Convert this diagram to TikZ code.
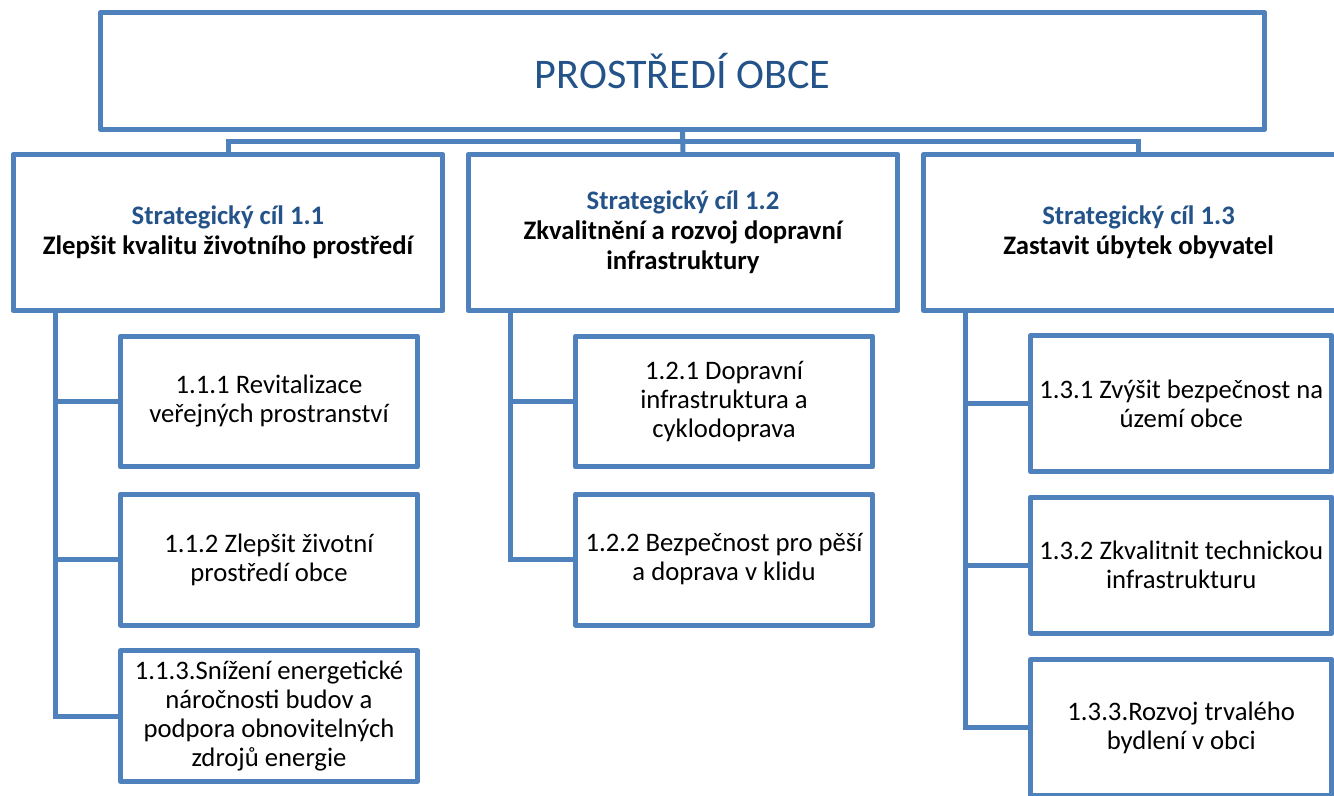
\documentclass[tikz,border=0pt]{standalone}
\usepackage{fontspec}
\setmainfont{Carlito}
\definecolor{framecol}{RGB}{79,129,189}
\definecolor{headcol}{RGB}{36,83,138}

\tikzset{
  box/.style={draw=framecol, line width=0.1cm, line join=round, fill=white,
    align=center, inner sep=2pt},
  titlebox/.style={box, minimum width=23.3cm, minimum height=2.33cm,
    font=\fontsize{24}{28}\selectfont, text=headcol},
  goalbox/.style={box, minimum width=8.6cm, minimum height=3.12cm,
    font=\bfseries\fontsize{15.2}{17}\selectfont},
  taskbox/.style={box, minimum width=5.94cm, minimum height=2.62cm,
    font=\fontsize{15.2}{16.5}\selectfont},
  link/.style={draw=framecol, line width=0.1cm}
}

\begin{document}
\begin{tikzpicture}[x=0.02cm, y=-0.02cm]
  \path[use as bounding box, clip] (0,0) rectangle (1334,795);

  % top
  \node[titlebox] (top) at (682.5,71) {PROSTŘEDÍ OBCE};

  % strategic goals
  \node[goalbox] (g11) at (228,232.5) {\textcolor{headcol}{Strategický cíl 1.1}\\Zlepšit kvalitu životního prostředí};
  \node[goalbox] (g12) at (683,232.5) {\textcolor{headcol}{Strategický cíl 1.2}\\Zkvalitnění a rozvoj dopravní\\infrastruktury};
  \node[goalbox] (g13) at (1138.5,232.5) {\textcolor{headcol}{Strategický cíl 1.3}\\Zastavit úbytek obyvatel};

  % tasks 1.1
  \node[taskbox] (t111) at (269,401.5) {1.1.1 Revitalizace\\veřejných prostranství};
  \node[taskbox] (t112) at (269,559.5) {1.1.2 Zlepšit životní\\prostředí obce};
  \node[taskbox] (t113) at (269,716) {1.1.3.Snížení energetické\\náročnosti budov a\\podpora obnovitelných\\zdrojů energie};

  % tasks 1.2
  \node[taskbox] (t121) at (724,401.5) {1.2.1 Dopravní\\infrastruktura a\\cyklodoprava};
  \node[taskbox] (t122) at (724,559.5) {1.2.2 Bezpečnost pro pěší\\a doprava v klidu};

  % tasks 1.3
  \node[taskbox, minimum width=6.03cm, minimum height=2.72cm] (t131) at (1181.25,403.75) {1.3.1 Zvýšit bezpečnost na\\území obce};
  \node[taskbox, minimum width=6.03cm, minimum height=2.72cm] (t132) at (1181.25,565) {1.3.2 Zkvalitnit technickou\\infrastrukturu};
  \node[taskbox, minimum width=6.03cm, minimum height=2.72cm] (t133) at (1181.25,727.5) {1.3.3.Rozvoj trvalého\\bydlení v obci};

  % connectors
  \coordinate (bus) at (682.5,141.5);
  \coordinate (a11) at (55.5,310.5);
  \coordinate (a12) at (510.5,310.5);
  \coordinate (a13) at (965.5,310.5);

  \draw[link] (top.south) -- (g12.north);
  \draw[link] (g11.north) |- (bus) -| (g13.north);

  \draw[link] (a11) |- (t113.west);
  \draw[link] (a11 |- t111.west) -- (t111.west);
  \draw[link] (a11 |- t112.west) -- (t112.west);

  \draw[link] (a12) |- (t122.west);
  \draw[link] (a12 |- t121.west) -- (t121.west);

  \draw[link] (a13) |- (t133.west);
  \draw[link] (a13 |- t131.west) -- (t131.west);
  \draw[link] (a13 |- t132.west) -- (t132.west);
\end{tikzpicture}
\end{document}
